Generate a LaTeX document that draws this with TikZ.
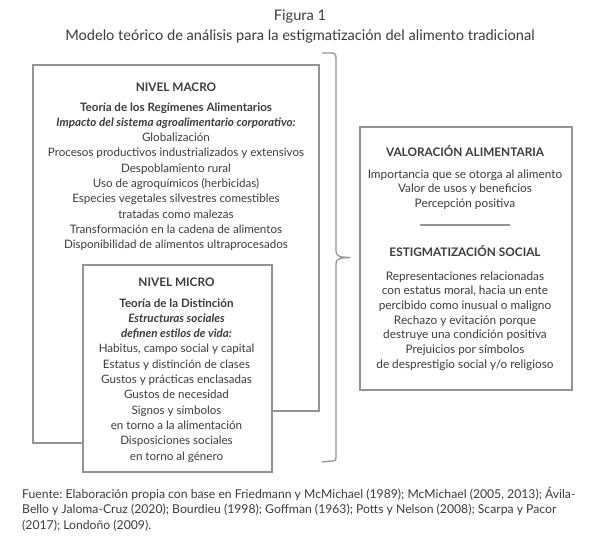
\documentclass[tikz,border=0pt]{standalone}
\usepackage{fontspec}
\setmainfont{Lato}
\frenchspacing
\definecolor{txtgray}{HTML}{3C3C3C}
\definecolor{linegray}{HTML}{949494}
\begin{document}
\begin{tikzpicture}[x=1pt,y=-1pt,
  body/.style={font=\fontsize{11.6}{15.3}\selectfont, align=center, inner sep=0pt, text=txtgray, anchor=base},
  bodyr/.style={font=\fontsize{11.8}{14.7}\selectfont, align=center, inner sep=0pt, text=txtgray, anchor=base},
  head/.style={font=\fontsize{11.8}{15}\selectfont\bfseries, inner sep=0pt, text=txtgray, anchor=base},
  frame/.style={draw=linegray, line width=1.5pt},
  bracestyle/.style={draw=linegray, line width=1.3pt, line join=round}]
\useasboundingbox (0,0) rectangle (600,546);
\fill[white] (0,0) rectangle (600,546);

% titles
\node[font=\fontsize{14.6}{17}\selectfont, text=txtgray, inner sep=0pt, anchor=base] (fig) at (300,20) {Figura 1};
\node[font=\fontsize{14.6}{17}\selectfont, text=txtgray, inner sep=0pt, anchor=base] (sub) at (300,40) {Modelo teórico de análisis para la estigmatización del alimento tradicional};

% macro frame
\coordinate (mA) at (82,443);
\coordinate (mB) at (33,443);
\coordinate (mC) at (33,65);
\coordinate (mD) at (319,65);
\coordinate (mE) at (319,411);
\coordinate (mF) at (271,411);
\draw[frame, line join=miter] (mA) -- (mB) -- (mC) -- (mD) -- (mE) -- (mF);

% micro frame
\node[frame, fill=white, minimum width=189pt, minimum height=207pt, inner sep=0pt, anchor=north west] (micro) at (82,264) {};

% right frame
\node[frame, minimum width=212pt, minimum height=263pt, inner sep=0pt, anchor=north west] (right) at (359,126) {};

% macro texts (anchor base = last line)
\node[head] (macroT) at (176,91) {NIVEL MACRO};
\node[body] (macroB) at (176,248.7) {\textbf{Teoría de los Regímenes Alimentarios}\\
\textbf{\itshape Impacto del sistema agroalimentario corporativo:}\\
Globalización\\
Procesos productivos industrializados y extensivos\\
Despoblamiento rural\\
Uso de agroquímicos (herbicidas)\\
Especies vegetales silvestres comestibles\\
tratadas como malezas\\
Transformación en la cadena de alimentos\\
Disponibilidad de alimentos ultraprocesados};

% micro texts
\node[head] (microT) at (176.5,286) {NIVEL MICRO};
\node[body] (microB) at (176.5,460) {\textbf{Teoría de la Distinción}\\
\textbf{\itshape Estructuras sociales}\\
\textbf{\itshape definen estilos de vida:}\\
Habitus, campo social y capital\\
Estatus y distinción de clases\\
Gustos y prácticas enclasadas\\
Gustos de necesidad\\
Signos y símbolos\\
en torno a la alimentación\\
Disposiciones sociales\\
en torno al género};

% right texts
\node[head] (valT) at (465,156) {VALORACIÓN ALIMENTARIA};
\node[bodyr] (valB) at (465,207.4) {Importancia que se otorga al alimento\\
Valor de usos y beneficios\\
Percepción positiva};
\coordinate (sepL) at (420,225);
\coordinate (sepR) at (510,225);
\draw[draw=linegray, line width=1.1pt] (sepL) -- (sepR);
\node[head] (estT) at (465,256) {ESTIGMATIZACIÓN SOCIAL};
\node[bodyr] (estB) at (465,368.2) {Representaciones relacionadas\\
con estatus moral, hacia un ente\\
percibido como inusual o maligno\\
Rechazo y evitación porque\\
destruye una condición positiva\\
Prejuicios por símbolos\\
de desprestigio social y/o religioso};

% brace
\coordinate (bTop) at (322,53);
\coordinate (bTip) at (350,257.5);
\coordinate (bBot) at (322,462);
\draw[bracestyle] (bTop) -- (331,53) .. controls (335,53) and (336,54) .. (336,58)
  -- (336,251) .. controls (336,255) and (338,257.5) .. (bTip)
  .. controls (338,257.5) and (336,260) .. (336,264)
  -- (336,457) .. controls (336,461) and (335,461) .. (331,461) -- (bBot);

% footnote
\node[font=\fontsize{12.2}{15.5}\selectfont, text=txtgray, align=left, inner sep=0pt, anchor=base west] (note) at (22,529) {Fuente: Elaboración propia con base en Friedmann y McMichael (1989); McMichael (2005, 2013); Ávila-\\
Bello y Jaloma-Cruz (2020); Bourdieu (1998); Goffman (1963); Potts y Nelson (2008); Scarpa y Pacor\\
(2017); Londoño (2009).};
\end{tikzpicture}
\end{document}
